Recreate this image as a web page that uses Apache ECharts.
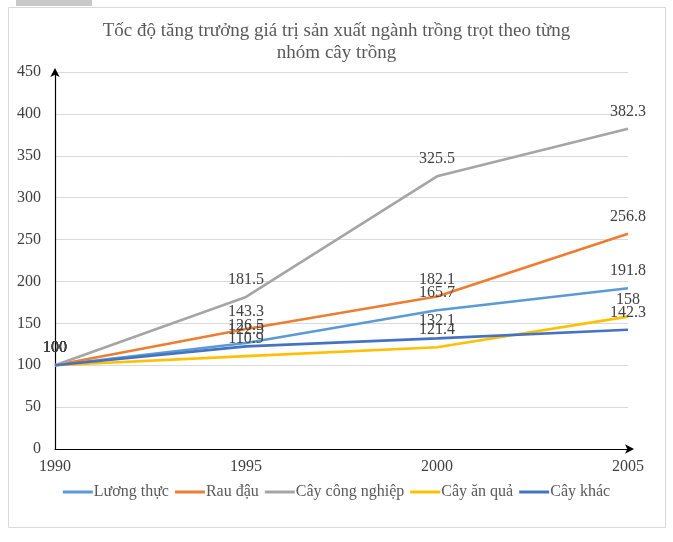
<!DOCTYPE html>
<html><head><meta charset="utf-8">
<script src="https://cdn.jsdelivr.net/npm/echarts@6/dist/echarts.min.js"></script>
<style>html,body{margin:0;padding:0;background:#fff}#c{width:673px;height:542px}</style>
</head><body><div id="c"></div>
<script>
const years = ['1990','1995','2000','2005'];
const seriesNames = ['Lương thực','Rau đậu','Cây công nghiệp','Cây ăn quả','Cây khác'];
const luongThuc = [100, 126.5, 165.7, 191.8];
const rauDau = [100, 143.3, 182.1, 256.8];
const cayCongNghiep = [100, 181.5, 325.5, 382.3];
const cayAnQua = [100, 110.9, 121.4, 158];
const cayKhac = [100, 122.5, 132.1, 142.3];
const yTicks = [0, 50, 100, 150, 200, 250, 300, 350, 400, 450];
const colors = ['#5B9BD5','#ED7D31','#A5A5A5','#FFC000','#4472C4'];
const allData = [luongThuc, rauDau, cayCongNghiep, cayAnQua, cayKhac];
const font = '"Liberation Serif", "Times New Roman", serif';
const chart = echarts.init(document.getElementById('c'));
chart.setOption({
  animation: false,
  color: colors,
  textStyle: {fontFamily: font},
  graphic: [
    {type:'rect', shape:{x:8.5,y:7.5,width:657,height:520}, style:{fill:'none', stroke:'#D9D9D9', lineWidth:1}},
    {type:'rect', shape:{x:16,y:0,width:76,height:6}, style:{fill:'#C8C8C8'}}
  ],
  title: {
    text: 'Tốc độ tăng trưởng giá trị sản xuất ngành trồng trọt theo từng\nnhóm cây trồng',
    left: 'center', top: 15,
    textStyle: {fontFamily: font, fontSize: 19, fontWeight: 'normal', color: '#595959', lineHeight: 22}
  },
  legend: {
    bottom: 37, left: 'center',
    icon: 'rect', itemWidth: 30, itemHeight: 3, itemGap: 6,
    textStyle: {fontFamily: font, fontSize: 16, color: '#595959', padding:[0,0,0,-4]},
    data: seriesNames
  },
  grid: {left: 55, right: 45, top: 72, bottom: 93},
  xAxis: {
    type: 'category', data: years, boundaryGap: false,
    axisLine: {lineStyle: {color: '#000', width: 1.2}, symbol: ['none','arrow'], symbolSize: [7,9], symbolOffset:[0,6]},
    axisTick: {show: false},
    axisLabel: {fontFamily: font, fontSize: 16, color: '#404040', margin: 10}
  },
  yAxis: {
    type: 'value', min: 0, max: 450, interval: 50,
    axisLine: {show: true, lineStyle: {color: '#000', width: 1.2}, symbol: ['none','arrow'], symbolSize: [7,9], symbolOffset:[0,4]},
    axisTick: {show: false},
    splitLine: {lineStyle: {color: '#D9D9D9'}},
    axisLabel: {fontFamily: font, fontSize: 16, color: '#404040', margin: 14,
      formatter: v => yTicks.includes(v) ? String(v) : ''}
  },
  series: seriesNames.map((n,i) => ({
    name: n, type: 'line', data: allData[i],
    symbol: 'circle', symbolSize: 0.1, showSymbol: true,
    lineStyle: {width: 2.6, color: colors[i]},
    itemStyle: {color: colors[i]},
    label: {show: true, position: 'top', distance: 9, fontFamily: font, fontSize: 16, color: '#404040'},
    labelLayout: {hideOverlap: false},
    z: 2
  }))
});
</script></body></html>
